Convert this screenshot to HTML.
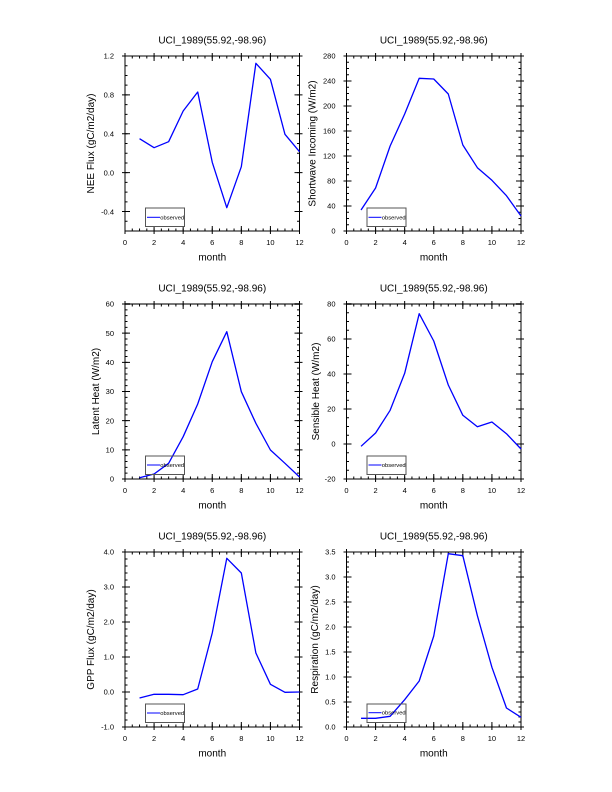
<!DOCTYPE html>
<html><head><meta charset="utf-8"><style>
html,body{margin:0;padding:0;background:#fff;}
svg{display:block;font-family:"Liberation Sans",Arial,Helvetica,sans-serif;}
.t{font-size:10px;text-anchor:middle;fill:#000;}
.yl{font-size:7.5px;text-anchor:end;fill:#000;}
.xl{font-size:7.5px;text-anchor:middle;fill:#000;}
.lg{font-size:5.8px;fill:#000;}
.tk{stroke:#000;fill:none;}
.d{fill:none;stroke:#0000ff;stroke-width:1.3;stroke-linejoin:round;}
</style></head><body>
<svg width="612" height="792" viewBox="0 0 612 792" xmlns="http://www.w3.org/2000/svg">
<rect width="612" height="792" fill="#fff"/>

<!-- Panel 1 -->
<g transform="translate(125,56)">
<rect x="0" y="0" width="174.5" height="175" fill="none" stroke="#000" stroke-width="1"/>
<line class="tk" x1="-0.5" y1="174" x2="175" y2="174" stroke-width="8" stroke-dasharray="1 28.083"/>
<line class="tk" x1="-0.5" y1="173.75" x2="175" y2="173.75" stroke-width="2.5" stroke-dasharray="1 6.271"/>
<line class="tk" x1="-0.5" y1="1" x2="175" y2="1" stroke-width="8" stroke-dasharray="1 28.083"/>
<line class="tk" x1="-0.5" y1="1.25" x2="175" y2="1.25" stroke-width="2.5" stroke-dasharray="1 6.271"/>
<line class="tk" x1="1" y1="-0.5" x2="1" y2="175.5" stroke-width="8" stroke-dasharray="1 37.889"/>
<line class="tk" x1="1.25" y1="-0.5" x2="1.25" y2="175.5" stroke-width="2.5" stroke-dasharray="1 8.722"/>
<line class="tk" x1="173.5" y1="-0.5" x2="173.5" y2="175.5" stroke-width="8" stroke-dasharray="1 37.889"/>
<line class="tk" x1="173.25" y1="-0.5" x2="173.25" y2="175.5" stroke-width="2.5" stroke-dasharray="1 8.722"/>
<polyline class="d" points="14.54,82.7 29.08,91.7 43.63,85.7 58.17,55 72.71,36 87.25,106.3 101.79,151.7 116.33,110.7 130.88,7.3 145.42,23.3 159.96,78.3 174.5,95.7"/>
<rect x="20.5" y="152" width="39" height="18.5" fill="none" stroke="#555" stroke-width="1"/>
<line x1="22" y1="161.3" x2="35" y2="161.3" stroke="#0000ff" stroke-width="1"/>
<text class="lg" x="35.3" y="163.3">observed</text>
<text class="t" x="87.25" y="-12.5">UCI_1989(55.92,-98.96)</text>
<text class="t" x="87.25" y="204.5">month</text>
<text class="t" transform="translate(-31,87.5) rotate(-90)">NEE Flux (gC/m2/day)</text>
<text class="yl" x="-11" y="2.7">1.2</text>
<text class="yl" x="-11" y="41.6">0.8</text>
<text class="yl" x="-11" y="80.5">0.4</text>
<text class="yl" x="-11" y="119.4">0.0</text>
<text class="yl" x="-11" y="158.3">-0.4</text>
<text class="xl" x="0" y="189">0</text>
<text class="xl" x="29.08" y="189">2</text>
<text class="xl" x="58.17" y="189">4</text>
<text class="xl" x="87.25" y="189">6</text>
<text class="xl" x="116.33" y="189">8</text>
<text class="xl" x="145.42" y="189">10</text>
<text class="xl" x="174.5" y="189">12</text>
</g>

<!-- Panel 2 -->
<g transform="translate(346.5,56)">
<rect x="0" y="0" width="174.5" height="175" fill="none" stroke="#000" stroke-width="1"/>
<line class="tk" x1="-0.5" y1="174" x2="175" y2="174" stroke-width="8" stroke-dasharray="1 28.083"/>
<line class="tk" x1="-0.5" y1="173.75" x2="175" y2="173.75" stroke-width="2.5" stroke-dasharray="1 6.271"/>
<line class="tk" x1="-0.5" y1="1" x2="175" y2="1" stroke-width="8" stroke-dasharray="1 28.083"/>
<line class="tk" x1="-0.5" y1="1.25" x2="175" y2="1.25" stroke-width="2.5" stroke-dasharray="1 6.271"/>
<line class="tk" x1="1" y1="-0.5" x2="1" y2="175.5" stroke-width="8" stroke-dasharray="1 24"/>
<line class="tk" x1="1.25" y1="-0.5" x2="1.25" y2="175.5" stroke-width="2.5" stroke-dasharray="1 5.25"/>
<line class="tk" x1="173.5" y1="-0.5" x2="173.5" y2="175.5" stroke-width="8" stroke-dasharray="1 24"/>
<line class="tk" x1="173.25" y1="-0.5" x2="173.25" y2="175.5" stroke-width="2.5" stroke-dasharray="1 5.25"/>
<polyline class="d" points="14.54,154 29.08,132 43.63,90 58.17,58 72.71,22.3 87.25,23 101.79,38 116.33,89 130.88,111.7 145.42,124.3 159.96,139.7 174.5,160"/>
<rect x="20.5" y="152" width="39" height="18.5" fill="none" stroke="#555" stroke-width="1"/>
<line x1="22" y1="161.3" x2="35" y2="161.3" stroke="#0000ff" stroke-width="1"/>
<text class="lg" x="35.3" y="163.3">observed</text>
<text class="t" x="87.25" y="-12.5">UCI_1989(55.92,-98.96)</text>
<text class="t" x="87.25" y="204.5">month</text>
<text class="t" transform="translate(-31,87.5) rotate(-90)">Shortwave Incoming (W/m2)</text>
<text class="yl" x="-11" y="2.7">280</text>
<text class="yl" x="-11" y="27.7">240</text>
<text class="yl" x="-11" y="52.7">200</text>
<text class="yl" x="-11" y="77.7">160</text>
<text class="yl" x="-11" y="102.7">120</text>
<text class="yl" x="-11" y="127.7">80</text>
<text class="yl" x="-11" y="152.7">40</text>
<text class="yl" x="-11" y="177.7">0</text>
<text class="xl" x="0" y="189">0</text>
<text class="xl" x="29.08" y="189">2</text>
<text class="xl" x="58.17" y="189">4</text>
<text class="xl" x="87.25" y="189">6</text>
<text class="xl" x="116.33" y="189">8</text>
<text class="xl" x="145.42" y="189">10</text>
<text class="xl" x="174.5" y="189">12</text>
</g>

<!-- Panel 3 -->
<g transform="translate(125,304)">
<rect x="0" y="0" width="174.5" height="175" fill="none" stroke="#000" stroke-width="1"/>
<line x1="0" y1="0" x2="174.5" y2="0" stroke="#777" stroke-width="2"/>
<line class="tk" x1="-0.5" y1="174" x2="175" y2="174" stroke-width="8" stroke-dasharray="1 28.083"/>
<line class="tk" x1="-0.5" y1="173.75" x2="175" y2="173.75" stroke-width="2.5" stroke-dasharray="1 6.271"/>
<line class="tk" x1="-0.5" y1="1" x2="175" y2="1" stroke-width="8" stroke-dasharray="1 28.083"/>
<line class="tk" x1="-0.5" y1="1.25" x2="175" y2="1.25" stroke-width="2.5" stroke-dasharray="1 6.271"/>
<line class="tk" x1="1" y1="-0.5" x2="1" y2="175.5" stroke-width="8" stroke-dasharray="1 28.167"/>
<line class="tk" x1="1.25" y1="-0.5" x2="1.25" y2="175.5" stroke-width="2.5" stroke-dasharray="1 4.833"/>
<line class="tk" x1="173.5" y1="-0.5" x2="173.5" y2="175.5" stroke-width="8" stroke-dasharray="1 28.167"/>
<line class="tk" x1="173.25" y1="-0.5" x2="173.25" y2="175.5" stroke-width="2.5" stroke-dasharray="1 4.833"/>
<polyline class="d" points="14.54,173.7 29.08,170 43.63,159.3 58.17,132.7 72.71,100 87.25,57.7 101.79,27.7 116.33,87.7 130.88,119.3 145.42,146 159.96,159.3 174.5,173"/>
<rect x="20.5" y="152" width="39" height="18.5" fill="none" stroke="#555" stroke-width="1"/>
<line x1="22" y1="161" x2="35" y2="161" stroke="#0000ff" stroke-width="1"/>
<text class="lg" x="35.3" y="163">observed</text>
<text class="t" x="87.25" y="-12.5">UCI_1989(55.92,-98.96)</text>
<text class="t" x="87.25" y="204.5">month</text>
<text class="t" transform="translate(-26,87.5) rotate(-90)">Latent Heat (W/m2)</text>
<text class="yl" x="-11" y="2.7">60</text>
<text class="yl" x="-11" y="31.9">50</text>
<text class="yl" x="-11" y="61">40</text>
<text class="yl" x="-11" y="90.2">30</text>
<text class="yl" x="-11" y="119.4">20</text>
<text class="yl" x="-11" y="148.5">10</text>
<text class="yl" x="-11" y="177.7">0</text>
<text class="xl" x="0" y="189">0</text>
<text class="xl" x="29.08" y="189">2</text>
<text class="xl" x="58.17" y="189">4</text>
<text class="xl" x="87.25" y="189">6</text>
<text class="xl" x="116.33" y="189">8</text>
<text class="xl" x="145.42" y="189">10</text>
<text class="xl" x="174.5" y="189">12</text>
</g>

<!-- Panel 4 -->
<g transform="translate(346.5,304)">
<rect x="0" y="0" width="174.5" height="175" fill="none" stroke="#000" stroke-width="1"/>
<line x1="0" y1="0" x2="174.5" y2="0" stroke="#777" stroke-width="2"/>
<line class="tk" x1="-0.5" y1="174" x2="175" y2="174" stroke-width="8" stroke-dasharray="1 28.083"/>
<line class="tk" x1="-0.5" y1="173.75" x2="175" y2="173.75" stroke-width="2.5" stroke-dasharray="1 6.271"/>
<line class="tk" x1="-0.5" y1="1" x2="175" y2="1" stroke-width="8" stroke-dasharray="1 28.083"/>
<line class="tk" x1="-0.5" y1="1.25" x2="175" y2="1.25" stroke-width="2.5" stroke-dasharray="1 6.271"/>
<line class="tk" x1="1" y1="-0.5" x2="1" y2="175.5" stroke-width="8" stroke-dasharray="1 34"/>
<line class="tk" x1="1.25" y1="-0.5" x2="1.25" y2="175.5" stroke-width="2.5" stroke-dasharray="1 7.75"/>
<line class="tk" x1="173.5" y1="-0.5" x2="173.5" y2="175.5" stroke-width="8" stroke-dasharray="1 34"/>
<line class="tk" x1="173.25" y1="-0.5" x2="173.25" y2="175.5" stroke-width="2.5" stroke-dasharray="1 7.75"/>
<polyline class="d" points="14.54,142.3 29.08,129 43.63,106.3 58.17,69.3 72.71,9.7 87.25,37 101.79,81 116.33,111.3 130.88,122.7 145.42,118 159.96,129.7 174.5,145"/>
<rect x="20.5" y="152" width="39" height="18.5" fill="none" stroke="#555" stroke-width="1"/>
<line x1="22" y1="161" x2="35" y2="161" stroke="#0000ff" stroke-width="1"/>
<text class="lg" x="35.3" y="163">observed</text>
<text class="t" x="87.25" y="-12.5">UCI_1989(55.92,-98.96)</text>
<text class="t" x="87.25" y="204.5">month</text>
<text class="t" transform="translate(-27.5,87.5) rotate(-90)">Sensible Heat (W/m2)</text>
<text class="yl" x="-11" y="2.7">80</text>
<text class="yl" x="-11" y="37.7">60</text>
<text class="yl" x="-11" y="72.7">40</text>
<text class="yl" x="-11" y="107.7">20</text>
<text class="yl" x="-11" y="142.7">0</text>
<text class="yl" x="-11" y="177.7">-20</text>
<text class="xl" x="0" y="189">0</text>
<text class="xl" x="29.08" y="189">2</text>
<text class="xl" x="58.17" y="189">4</text>
<text class="xl" x="87.25" y="189">6</text>
<text class="xl" x="116.33" y="189">8</text>
<text class="xl" x="145.42" y="189">10</text>
<text class="xl" x="174.5" y="189">12</text>
</g>

<!-- Panel 5 -->
<g transform="translate(125,552)">
<rect x="0" y="0" width="174.5" height="175" fill="none" stroke="#000" stroke-width="1"/>
<line class="tk" x1="-0.5" y1="174" x2="175" y2="174" stroke-width="8" stroke-dasharray="1 28.083"/>
<line class="tk" x1="-0.5" y1="173.75" x2="175" y2="173.75" stroke-width="2.5" stroke-dasharray="1 6.271"/>
<line class="tk" x1="-0.5" y1="1" x2="175" y2="1" stroke-width="8" stroke-dasharray="1 28.083"/>
<line class="tk" x1="-0.5" y1="1.25" x2="175" y2="1.25" stroke-width="2.5" stroke-dasharray="1 6.271"/>
<line class="tk" x1="1" y1="-0.5" x2="1" y2="175.5" stroke-width="8" stroke-dasharray="1 34"/>
<line class="tk" x1="1.25" y1="-0.5" x2="1.25" y2="175.5" stroke-width="2.5" stroke-dasharray="1 6"/>
<line class="tk" x1="173.5" y1="-0.5" x2="173.5" y2="175.5" stroke-width="8" stroke-dasharray="1 34"/>
<line class="tk" x1="173.25" y1="-0.5" x2="173.25" y2="175.5" stroke-width="2.5" stroke-dasharray="1 6"/>
<polyline class="d" points="14.54,146 29.08,142.3 43.63,142.3 58.17,142.7 72.71,137 87.25,81 101.79,6.3 116.33,21 130.88,101 145.42,132.3 159.96,140.3 174.5,140"/>
<rect x="20.5" y="152" width="39" height="18.5" fill="none" stroke="#555" stroke-width="1"/>
<line x1="22" y1="161" x2="35" y2="161" stroke="#0000ff" stroke-width="1"/>
<text class="lg" x="35.3" y="163">observed</text>
<text class="t" x="87.25" y="-12.5">UCI_1989(55.92,-98.96)</text>
<text class="t" x="87.25" y="204.5">month</text>
<text class="t" transform="translate(-31,87.5) rotate(-90)">GPP Flux (gC/m2/day)</text>
<text class="yl" x="-11" y="2.7">4.0</text>
<text class="yl" x="-11" y="37.7">3.0</text>
<text class="yl" x="-11" y="72.7">2.0</text>
<text class="yl" x="-11" y="107.7">1.0</text>
<text class="yl" x="-11" y="142.7">0.0</text>
<text class="yl" x="-11" y="177.7">-1.0</text>
<text class="xl" x="0" y="189">0</text>
<text class="xl" x="29.08" y="189">2</text>
<text class="xl" x="58.17" y="189">4</text>
<text class="xl" x="87.25" y="189">6</text>
<text class="xl" x="116.33" y="189">8</text>
<text class="xl" x="145.42" y="189">10</text>
<text class="xl" x="174.5" y="189">12</text>
</g>

<!-- Panel 6 -->
<g transform="translate(346.5,552)">
<rect x="0" y="0" width="174.5" height="175" fill="none" stroke="#000" stroke-width="1"/>
<line class="tk" x1="-0.5" y1="174" x2="175" y2="174" stroke-width="8" stroke-dasharray="1 28.083"/>
<line class="tk" x1="-0.5" y1="173.75" x2="175" y2="173.75" stroke-width="2.5" stroke-dasharray="1 6.271"/>
<line class="tk" x1="-0.5" y1="1" x2="175" y2="1" stroke-width="8" stroke-dasharray="1 28.083"/>
<line class="tk" x1="-0.5" y1="1.25" x2="175" y2="1.25" stroke-width="2.5" stroke-dasharray="1 6.271"/>
<line class="tk" x1="1" y1="-0.5" x2="1" y2="175.5" stroke-width="8" stroke-dasharray="1 24"/>
<line class="tk" x1="1.25" y1="-0.5" x2="1.25" y2="175.5" stroke-width="2.5" stroke-dasharray="1 4"/>
<line class="tk" x1="173.5" y1="-0.5" x2="173.5" y2="175.5" stroke-width="8" stroke-dasharray="1 24"/>
<line class="tk" x1="173.25" y1="-0.5" x2="173.25" y2="175.5" stroke-width="2.5" stroke-dasharray="1 4"/>
<polyline class="d" points="14.54,166.3 29.08,166.3 43.63,164.3 58.17,147.7 72.71,129 87.25,84 101.79,1.7 116.33,3.7 130.88,63.7 145.42,115.3 159.96,156 174.5,165.3"/>
<rect x="20.5" y="152" width="39" height="18.5" fill="none" stroke="#555" stroke-width="1"/>
<line x1="22" y1="160.7" x2="35" y2="160.7" stroke="#0000ff" stroke-width="1"/>
<text class="lg" x="35.3" y="162.7">observed</text>
<text class="t" x="87.25" y="-12.5">UCI_1989(55.92,-98.96)</text>
<text class="t" x="87.25" y="204.5">month</text>
<text class="t" transform="translate(-28.5,87.5) rotate(-90)">Respiration (gC/m2/day)</text>
<text class="yl" x="-11" y="2.7">3.5</text>
<text class="yl" x="-11" y="27.7">3.0</text>
<text class="yl" x="-11" y="52.7">2.5</text>
<text class="yl" x="-11" y="77.7">2.0</text>
<text class="yl" x="-11" y="102.7">1.5</text>
<text class="yl" x="-11" y="127.7">1.0</text>
<text class="yl" x="-11" y="152.7">0.5</text>
<text class="yl" x="-11" y="177.7">0.0</text>
<text class="xl" x="0" y="189">0</text>
<text class="xl" x="29.08" y="189">2</text>
<text class="xl" x="58.17" y="189">4</text>
<text class="xl" x="87.25" y="189">6</text>
<text class="xl" x="116.33" y="189">8</text>
<text class="xl" x="145.42" y="189">10</text>
<text class="xl" x="174.5" y="189">12</text>
</g>
</svg>
</body></html>
